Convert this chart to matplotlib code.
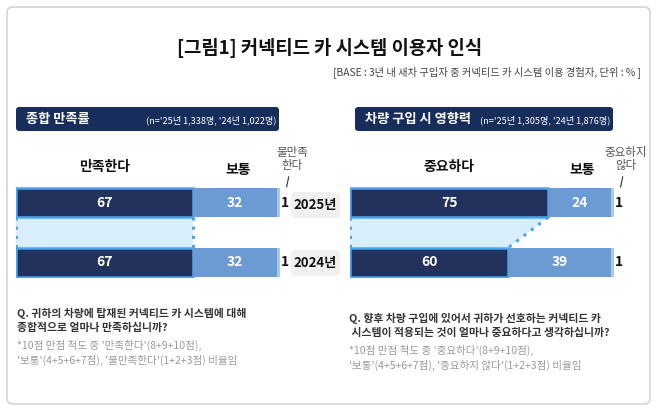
import numpy as np
import matplotlib
matplotlib.use("Agg")
import matplotlib.pyplot as plt
from matplotlib.patches import FancyBboxPatch, Polygon

plt.rcParams["font.family"] = ["Noto Sans CJK KR", "DejaVu Sans"]

# --- data ---
years = ["2025년", "2024년"]
sat_labels = ["만족한다", "보통", "불만족\n한다"]
sat_2025 = [67, 32, 1]
sat_2024 = [67, 32, 1]
imp_labels = ["중요하다", "보통", "중요하지\n않다"]
imp_2025 = [75, 24, 1]
imp_2024 = [60, 39, 1]

title = "[그림1] 커넥티드 카 시스템 이용자 인식"
base_note = "[BASE : 3년 내 새차 구입자 중 커넥티드 카 시스템 이용 경험자, 단위 : % ]"
left_head = "종합 만족률"
left_n = "(n='25년 1,338명, '24년 1,022명)"
right_head = "차량 구입 시 영향력"
right_n = "(n='25년 1,305명, '24년 1,876명)"
left_q = ["Q. 귀하의 차량에 탑재된 커넥티드 카 시스템에 대해", "종합적으로 얼마나 만족하십니까?"]
left_note = ["*10점 만점 척도 중 '만족한다'(8+9+10점),", "'보통'(4+5+6+7점), '불만족한다'(1+2+3점) 비율임"]
right_q = ["Q. 향후 차량 구입에 있어서 귀하가 선호하는 커넥티드 카", " 시스템이 적용되는 것이 얼마나 중요하다고 생각하십니까?"]
right_note = ["*10점 만점 척도 중 '중요하다'(8+9+10점),", "'보통'(4+5+6+7점), '중요하지 않다'(1+2+3점) 비율임"]

NAVY = "#23325c"
MID = "#6b9bd2"
LIGHT = "#a8c9ec"
EDGE = "#49a6ee"
BAND = "#d8eefb"
HEAD = "#172d5c"

W, H = 658, 415
fig = plt.figure(figsize=(W / 100, H / 100), dpi=100)
bg = fig.add_axes([0, 0, 1, 1])
bg.set_xlim(0, W)
bg.set_ylim(H, 0)
bg.axis("off")

# card
bg.add_patch(FancyBboxPatch((7, 7), 643, 397, boxstyle="round,pad=0,rounding_size=6",
                            fc="white", ec="#d4d4d4", lw=1.2))
bg.text(330, 48, title, ha="center", va="center", fontsize=13.5, fontweight="bold", color="#111111")
bg.text(641, 73, base_note, ha="right", va="center", fontsize=7.4, color="#444444")

# header boxes
for x0, x1, head, n in [(16, 279, left_head, left_n), (355, 613, right_head, right_n)]:
    bg.add_patch(FancyBboxPatch((x0, 107), x1 - x0, 24, boxstyle="round,pad=0,rounding_size=3",
                                fc=HEAD, ec="none"))
    bg.text(x0 + 10, 119, head, ha="left", va="center", fontsize=9.5, fontweight="bold", color="white")
    bg.text(x1 - 3, 120, n, ha="right", va="center", fontsize=6.6, color="white")

# year labels
for yc, yr in zip([205, 263], years):
    bg.add_patch(FancyBboxPatch((291, yc - 13), 49, 26, boxstyle="round,pad=0,rounding_size=5",
                                fc="#f0f0f0", ec="none"))
    bg.text(315.5, yc, yr, ha="center", va="center", fontsize=9.5, fontweight="bold", color="#111111")


def panel(px0, vals25, vals24, labels):
    ax = fig.add_axes([px0 / W, 1 - 277.5 / H, 264 / W, 90 / H])
    ax.set_xlim(0, 100)
    ax.set_ylim(1.26, -0.26)
    ax.axis("off")
    hb = 0.49
    # connector band between top-category segments
    a, b = vals25[0], vals24[0]
    poly = Polygon([(0, hb / 2), (a, hb / 2), (b, 1 - hb / 2), (0, 1 - hb / 2)],
                   closed=True, fc=BAND, ec="none", zorder=1)
    ax.add_patch(poly)
    ax.plot([0, 0], [hb / 2, 1 - hb / 2], ls=(0, (1, 2)), lw=2.2, color=EDGE, zorder=2)
    ax.plot([a, b], [hb / 2, 1 - hb / 2], ls=(0, (1, 2)), lw=2.2, color=EDGE, zorder=2)
    for yi, vals in enumerate([vals25, vals24]):
        lefts = np.concatenate([[0], np.cumsum(vals)[:-1]])
        cols = [NAVY, MID, LIGHT]
        for k, (v, l, c) in enumerate(zip(vals, lefts, cols)):
            ax.barh(yi, v, left=l, height=hb, color=c,
                    edgecolor=EDGE if k == 0 else "none", lw=1.8 if k == 0 else 0, zorder=3)
        ax.text(vals[0] / 2, yi, str(vals[0]), ha="center", va="center", fontsize=10,
                fontweight="bold", color="white", zorder=4)
        ax.text(vals[0] + vals[1] / 2, yi, str(vals[1]), ha="center", va="center", fontsize=10,
                fontweight="bold", color="white", zorder=4)
        ax.text(100.5, yi, str(vals[2]), ha="left", va="center", fontsize=10,
                fontweight="bold", color="#111111", zorder=4, clip_on=False)
    # category labels
    ax.text(vals25[0] / 2, -0.6, labels[0], ha="center", va="center", fontsize=10,
            fontweight="bold", color="#111111", clip_on=False)
    ax.text(vals25[0] + vals25[1] / 2 + 1, -0.56, labels[1], ha="center", va="center", fontsize=10,
            fontweight="bold", color="#111111", clip_on=False)
    ax.text(104.5, -0.74, labels[2], ha="center", va="center", fontsize=8.3,
            color="#555555", linespacing=1.0, clip_on=False)
    ax.plot([103.3, 102.5], [-0.44, -0.27], color="#333333", lw=0.8, clip_on=False)
    return ax


panel(16, sat_2025, sat_2024, sat_labels)
panel(350, imp_2025, imp_2024, imp_labels)

# questions
for x0, q, note, y0 in [(17, left_q, left_note, 313), (349, right_q, right_note, 318)]:
    for i, line in enumerate(q):
        bg.text(x0, y0 + i * 15, line, ha="left", va="center", fontsize=7.8,
                fontweight="bold", color="#333333")
    for i, line in enumerate(note):
        bg.text(x0, y0 + 32 + i * 15, line, ha="left", va="center", fontsize=7.6, color="#9a9a9a")

fig.savefig("out.png", dpi=100, facecolor="white")
